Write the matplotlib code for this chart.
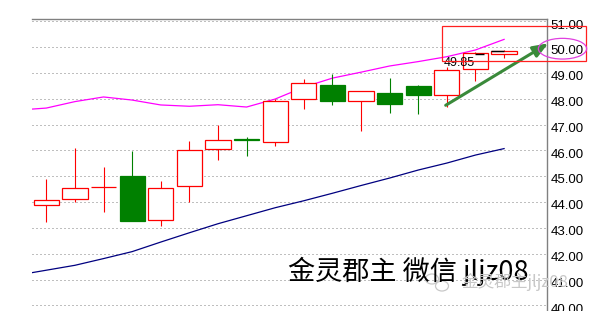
import matplotlib
matplotlib.use("Agg")
import matplotlib.pyplot as plt
from matplotlib.patches import Rectangle, Ellipse
import matplotlib.transforms as mtransforms
import numpy as np

# ---- data ----
opens  = [43.88, 44.10, 44.57, 45.00, 43.29, 44.64, 46.04, 46.45, 46.31, 47.98, 48.53, 47.90, 48.21, 48.49, 48.13, 49.14, 49.72]
closes = [44.06, 44.53, 44.57, 43.27, 44.53, 46.00, 46.39, 46.42, 47.90, 48.61, 47.92, 48.30, 47.78, 48.16, 49.11, 49.76, 49.84]
highs  = [44.89, 46.09, 45.35, 45.97, 44.81, 46.36, 47.00, 46.52, 48.00, 48.76, 48.95, 48.30, 48.80, 48.53, 49.24, 49.81, 49.88]
lows   = [43.23, 44.02, 43.60, 43.27, 43.08, 44.01, 45.62, 45.79, 46.18, 47.59, 47.77, 46.76, 47.46, 47.42, 47.67, 48.69, 49.57]
bear   = [False, False, False, True, False, False, False, True, False, False, True, False, True, True, False, False, False]

# moving averages, one value per bar starting with the bar before the first visible one
ma_fast = [47.56, 47.64, 47.89, 48.07, 47.95, 47.76, 47.71, 47.77, 47.68, 47.99, 48.45, 48.80, 49.03, 49.27, 49.44, 49.63, 49.89, 50.30]
ma_slow = [41.17, 41.36, 41.55, 41.81, 42.08, 42.45, 42.81, 43.16, 43.47, 43.78, 44.05, 44.34, 44.64, 44.93, 45.24, 45.51, 45.82, 46.07]

yticks = [40, 41, 42, 43, 44, 45, 46, 47, 48, 49, 50, 51]
ytick_labels = ["40.00", "41.00", "42.00", "43.00", "44.00", "45.00", "46.00", "47.00", "48.00", "49.00", "50.00", "51.00"]

price_label = "49.85"
price_label_x = 13.88
price_label_y = 49.38

# small black price segments on the last two bars: (x_start, x_end, y)
last_marks_x0 = [15.0, 15.55]
last_marks_x1 = [15.3, 16.0]
last_marks_y = [49.74, 49.86]

title_text = "金灵郡主 微信 jljz08"
watermark_text = "金灵郡主jljz08"

# ---- figure ----
W, H = 596, 311
fig = plt.figure(figsize=(W / 100, H / 100), dpi=100)
ax = fig.add_axes([32 / W, 0.0, 515 / W, 1 - 19.3 / H])
ax.set_xlim(-0.5, 17.5)
ax.set_ylim(39.78, 51.078)

for s in ["left", "bottom"]:
    ax.spines[s].set_visible(False)
for s in ["top", "right"]:
    ax.spines[s].set_color("#808080")
    ax.spines[s].set_linewidth(1.0)

ax.set_xticks([])
ax.yaxis.tick_right()
ax.set_yticks(yticks)
ax.set_yticklabels(ytick_labels, fontsize=9.5, family="Liberation Sans", color="#000000")
ax.tick_params(axis="y", length=0, pad=2.5)
shift = mtransforms.ScaledTranslation(0, -2.7 / 100, fig.dpi_scale_trans)
for lab in ax.get_yticklabels():
    lab.set_transform(lab.get_transform() + shift)

for yv in yticks:
    ax.axhline(yv, color="#808080", lw=0.72, ls=(0, (1, 3)), zorder=0)

x = np.arange(len(opens))
ma_x = np.arange(-1, len(opens))
ax.plot(ma_x, ma_fast, color="#ff00ff", lw=0.9, zorder=1)
ax.plot(ma_x, ma_slow, color="#000080", lw=0.9, zorder=1)

bw = 0.88
for i in range(len(opens)):
    col = "#008000" if bear[i] else "#ff0000"
    ax.vlines(x[i], lows[i], highs[i], color=col, lw=0.8, zorder=2)
    lo = min(opens[i], closes[i])
    hi = max(opens[i], closes[i])
    if hi - lo < 0.005:
        ax.hlines(lo, x[i] - bw / 2, x[i] + bw / 2, color=col, lw=0.9, zorder=3)
    else:
        ax.bar(x[i], hi - lo, bottom=lo, width=bw,
               facecolor=col if bear[i] else "white",
               edgecolor=col, linewidth=0.9, zorder=3)

ax.hlines(last_marks_y, last_marks_x0, last_marks_x1, color="black", lw=1.0, zorder=4)

ax.text(price_label_x, price_label_y, price_label, fontsize=9, family="Liberation Sans",
        ha="left", va="center", color="black", zorder=5)

# annotations in figure pixels
def fx(px):
    return px / W

def fy(py):
    return 1 - py / H

fig.patches.append(Rectangle((fx(442.3), fy(61.3)), fx(586) - fx(442.3), fy(26) - fy(61.3),
                             transform=fig.transFigure, fill=False, edgecolor="#ff2020", lw=0.9))
fig.patches.append(Ellipse((fx(562.5), fy(48.7)), 48.3 / W, 20.7 / H,
                           transform=fig.transFigure, fill=False, edgecolor="#e040e0", lw=0.9))

x0, y0 = 445.7, 105.3
x1, y1 = 548.3, 43.3
ax.annotate("", xy=(fx(x1), fy(y1)), xytext=(fx(x0), fy(y0)),
            xycoords="figure fraction", textcoords="figure fraction",
            arrowprops=dict(arrowstyle="-|>,head_length=0.9,head_width=0.35",
                            color="#3a8a3a", lw=2.2, shrinkA=0, shrinkB=0),
            annotation_clip=False)

fig.text(fx(288), fy(271.7), title_text, fontsize=19.5,
         family=["Noto Sans CJK SC", "DejaVu Sans"], ha="left", va="center", color="black")

# watermark with a simple chat-bubble icon
fig.patches.append(Ellipse((fx(432), fy(279)), 13 / W, 10 / H, transform=fig.transFigure,
                           fill=False, edgecolor="#c8c8c8", lw=0.9))
fig.patches.append(Ellipse((fx(442), fy(286)), 13 / W, 10 / H, transform=fig.transFigure,
                           fill=False, edgecolor="#c8c8c8", lw=0.9))
fig.text(fx(461), fy(282), watermark_text, fontsize=12,
         family=["Noto Sans CJK SC", "DejaVu Sans"], ha="left", va="center", color="#c8c8c8")

fig.savefig("out.png", dpi=100)
